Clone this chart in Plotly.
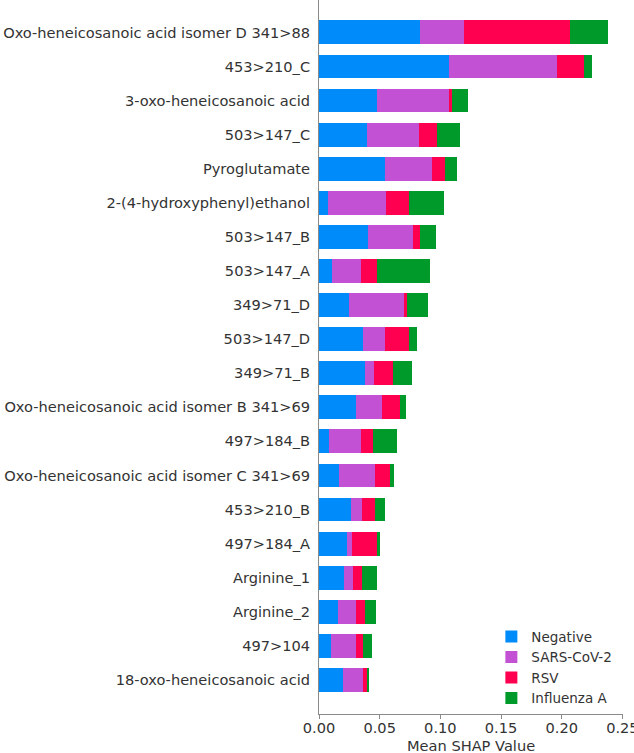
import plotly.graph_objects as go

features = [
    "Oxo-heneicosanoic acid isomer D 341>88",
    "453>210_C",
    "3-oxo-heneicosanoic acid",
    "503>147_C",
    "Pyroglutamate",
    "2-(4-hydroxyphenyl)ethanol",
    "503>147_B",
    "503>147_A",
    "349>71_D",
    "503>147_D",
    "349>71_B",
    "Oxo-heneicosanoic acid isomer B 341>69",
    "497>184_B",
    "Oxo-heneicosanoic acid isomer C 341>69",
    "453>210_B",
    "497>184_A",
    "Arginine_1",
    "Arginine_2",
    "497>104",
    "18-oxo-heneicosanoic acid",
]

negative = [0.0829, 0.1069, 0.0474, 0.0394, 0.0543, 0.0072, 0.0405, 0.0105, 0.0248, 0.0364,
            0.0377, 0.0303, 0.0080, 0.0162, 0.0267, 0.0229, 0.0209, 0.0160, 0.0099, 0.0196]
sars_cov_2 = [0.0364, 0.0889, 0.0595, 0.0429, 0.0385, 0.0476, 0.0369, 0.0237, 0.0449, 0.0176,
              0.0080, 0.0218, 0.0270, 0.0303, 0.0091, 0.0044, 0.0072, 0.0148, 0.0209, 0.0170]
rsv = [0.0873, 0.0229, 0.0024, 0.0149, 0.0108, 0.0190, 0.0055, 0.0137, 0.0030, 0.0204,
       0.0149, 0.0143, 0.0093, 0.0116, 0.0102, 0.0201, 0.0077, 0.0069, 0.0058, 0.0028]
influenza_a = [0.0319, 0.0063, 0.0133, 0.0187, 0.0101, 0.0289, 0.0132, 0.0433, 0.0171, 0.0060,
               0.0157, 0.0049, 0.0196, 0.0039, 0.0080, 0.0030, 0.0121, 0.0094, 0.0072, 0.0022]

series_names = ["Negative", "SARS-CoV-2", "RSV", "Influenza A"]
series_values = [negative, sars_cov_2, rsv, influenza_a]
series_colors = ["#008bfb", "#c251d4", "#ff0051", "#009a2a"]

x_ticks = [0.0, 0.05, 0.10, 0.15, 0.20, 0.25]
x_tick_labels = ["0.00", "0.05", "0.10", "0.15", "0.20", "0.25"]
x_title = "Mean SHAP Value"

fig = go.Figure()
for name, vals, col in zip(series_names, series_values, series_colors):
    fig.add_trace(go.Bar(
        y=features, x=vals, name=name, orientation="h",
        marker=dict(color=col, line=dict(width=0)),
        width=0.7,
    ))

font_family = "DejaVu Sans, sans-serif"
fs = 14.6
fig.update_layout(
    barmode="stack",
    width=634, height=753,
    margin=dict(l=319, r=11, t=0, b=39, autoexpand=False),
    paper_bgcolor="white", plot_bgcolor="white",
    font=dict(family=font_family, size=fs, color="#333333"),
    showlegend=True,
    legend=dict(
        traceorder="normal",
        x=0.567, y=0.130, xanchor="left", yanchor="top",
        font=dict(size=13.5, color="#333333"),
        itemwidth=30, tracegroupgap=0,
        bgcolor="rgba(255,255,255,0)",
    ),
)
fig.update_xaxes(
    range=[0, 0.2505],
    tickvals=x_ticks, ticktext=x_tick_labels,
    showgrid=False, zeroline=False,
    showline=True, linecolor="#8a8a8a", linewidth=1,
    ticks="outside", ticklen=4, tickcolor="#8a8a8a",
    tickfont=dict(size=fs, color="#333333"),
    ticklabeloverflow="allow", ticklabelstandoff=-4,
    automargin=False,
)
fig.update_yaxes(
    categoryorder="array", categoryarray=features[::-1],
    range=[-1, 19.95],
    showgrid=False, zeroline=False,
    showline=True, linecolor="#8a8a8a", linewidth=1,
    ticks="", ticklabelstandoff=5,
    tickfont=dict(size=fs, color="#333333"),
    automargin=False,
)
fig.add_annotation(
    text=x_title, xref="paper", yref="paper", x=0.5, y=0,
    xanchor="center", yanchor="middle", yshift=-31, showarrow=False,
    font=dict(size=fs, color="#333333"),
)

fig.write_html("out.html")
